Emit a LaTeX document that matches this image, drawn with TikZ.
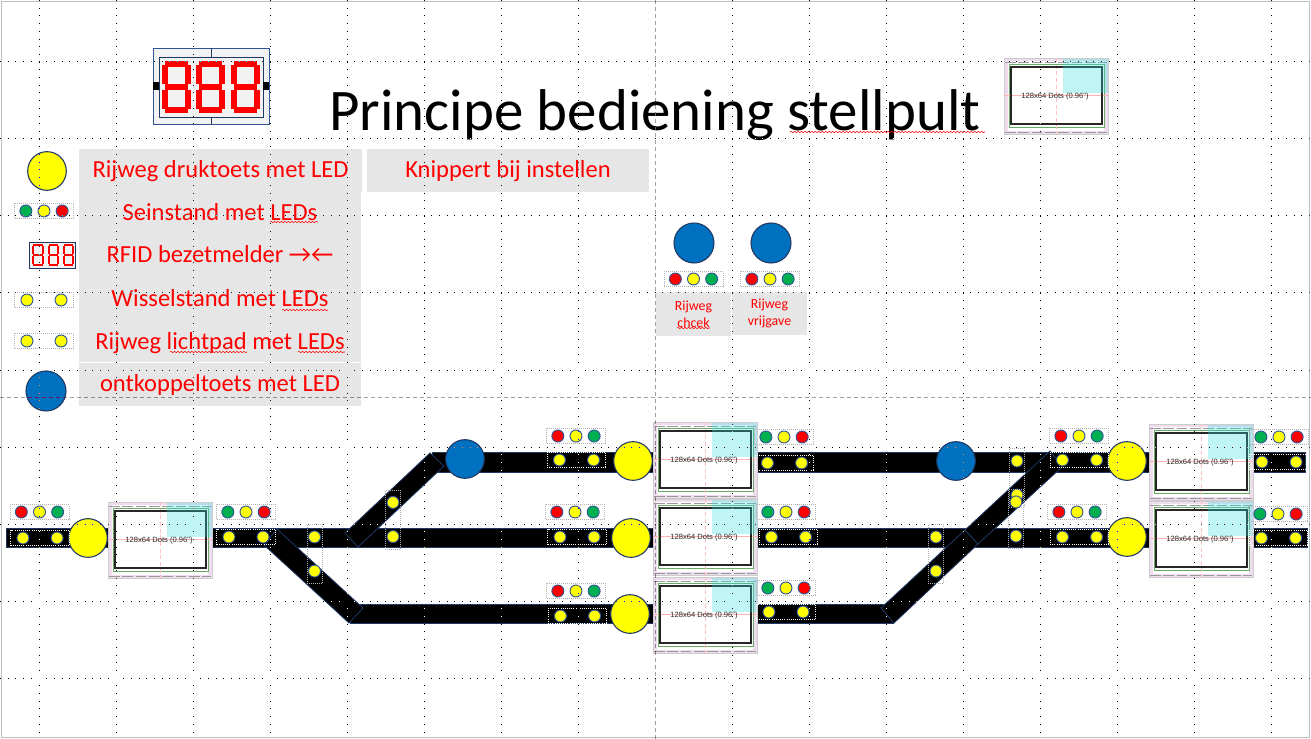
\documentclass[tikz,border=0pt]{standalone}
\usepackage{xcolor}
\usepackage{fontspec}
\usepackage{tikz}
\usetikzlibrary{positioning, decorations.pathmorphing}
\setmainfont{Carlito}
\newfontfamily\oledfont{Liberation Sans}

\definecolor{ledgreen}{HTML}{00B050}
\definecolor{ledyellow}{HTML}{FFFF00}
\definecolor{ledred}{HTML}{FF0000}
\definecolor{ledblue}{HTML}{0070C0}
\definecolor{edgenavy}{HTML}{1F3864}
\definecolor{ledrim}{HTML}{2F5597}
\definecolor{panelgray}{HTML}{E6E6E6}
\definecolor{oledpink}{HTML}{EFDDEF}
\definecolor{oledcyan}{HTML}{30E0E0}

\tikzset{
    trackbar/.style={fill=black,draw=edgenavy,line width=0.6pt},
    led/.style={circle,draw=ledrim,line width=0.7pt,minimum size=9pt,inner sep=0pt},
    ledbox/.style={rectangle,draw=black!30,densely dotted,line width=0.5pt,inner sep=0pt},
    ledboxon/.style={rectangle,draw=white,densely dotted,line width=0.6pt,inner sep=0pt},
    bigkey/.style={circle,draw=edgenavy,line width=0.8pt,minimum size=29pt,inner sep=0pt},
    legendbox/.style={rectangle,fill=panelgray,text=red,minimum width=212pt,minimum height=32pt,inner sep=0pt,
        text height=14pt,text depth=4pt,font=\fontsize{18.4}{22}\selectfont},
    smallbox/.style={rectangle,fill=panelgray,text=red,minimum width=56pt,minimum height=32.5pt,inner sep=0pt,
        align=center,font=\fontsize{10.4}{12.6}\selectfont},
    segline/.style={draw=red},
    griddots/.style={white,line width=0.75pt,dash pattern=on 0.75pt off 5.025pt,blend mode=difference},
    guideline/.style={color=black!63,line width=0.75pt,dash pattern=on 3pt off 2.25pt,blend mode=difference},
    squiggle/.style={red,line width=0.4pt,decorate,decoration={snake,amplitude=0.5pt,segment length=2.6pt}},
    oledpanel/.pic={
        \fill[oledpink] (0,0) rectangle (104,76);
        \fill[white] (4,3) rectangle (100,73);
        \draw[black!40,line width=0.6pt,dash pattern=on 8pt off 2pt] (1,4) -- (103,4);
        \draw[black!40,line width=0.6pt,dash pattern=on 8pt off 2pt] (1,74) -- (103,74);
        \draw[black!20,line width=0.5pt] (0,0) rectangle (104,76);
        \draw[green!45!black!60,line width=0.4pt] (5,6) rectangle (100,69);
        \draw[red!25,line width=0.6pt,densely dashed] (52,0) -- (52,76);
        \draw[red!30,line width=0.5pt] (0,37) -- (104,37);
        \draw[black!85,line width=2.2pt] (7,9) rectangle (98,66);
        \fill[oledcyan,fill opacity=0.3] (59,1) rectangle (104,35);
        \node[inner sep=0pt,text=black!85,font=\oledfont\fontsize{5.7}{7}\selectfont] (-txt) at (51,39) {128x64 Dots (0.96")};
    }
}

% x, y, breedte, hoogte, dikte
\newcommand{\segdigit}[5]{
    \draw[segline,line width={#5*0.75pt}]
        (#1+#5/2,#2+#5/2) -- (#1+#3-#5/2,#2+#5/2)
        (#1+#5/2,#2+#4/2) -- (#1+#3-#5/2,#2+#4/2)
        (#1+#5/2,#2+#4-#5/2) -- (#1+#3-#5/2,#2+#4-#5/2)
        (#1+#5/2,#2+#5/2+1) -- (#1+#5/2,#2+#4/2-#5/2)
        (#1+#3-#5/2,#2+#5/2+1) -- (#1+#3-#5/2,#2+#4/2-#5/2)
        (#1+#5/2,#2+#4/2+#5/2) -- (#1+#5/2,#2+#4-#5/2-1)
        (#1+#3-#5/2,#2+#4/2+#5/2) -- (#1+#3-#5/2,#2+#4-#5/2-1);
}
% naam, positie, drie kleuren
\newcommand{\seinleds}[5]{
    \node[ledbox,minimum width=44pt,minimum height=11.5pt] (#1) at (#2) {};
    \node[led,fill=#4] (#1b) at (#1) {};
    \node[led,fill=#3,left=3.9pt of #1b] (#1a) {};
    \node[led,fill=#5,right=3.9pt of #1b] (#1c) {};
}
% naam, positie, kaderstijl
\newcommand{\wisselleds}[3]{
    \node[#3,minimum width=44pt,minimum height=11.5pt] (#1) at (#2) {};
    \node[led,fill=ledyellow,xshift=-12.8pt] (#1a) at (#1) {};
    \node[led,fill=ledyellow,xshift=12.8pt] (#1b) at (#1) {};
}
\newcommand{\padleds}[2]{
    \node[ledbox,minimum width=11.5pt,minimum height=44pt] (#1) at (#2) {};
    \node[led,fill=ledyellow,yshift=12.8pt] (#1a) at (#1) {};
    \node[led,fill=ledyellow,yshift=-12.8pt] (#1b) at (#1) {};
}

\begin{document}
\begin{tikzpicture}[x=0.75pt,y=-0.75pt]
    \fill[white] (0,0) rectangle (1311,739);
    \useasboundingbox (0,0) rectangle (1311,739);
    \draw[black!25,line width=0.75pt] (1,1) rectangle (1309.5,737);

    % Titel
    \node[inner sep=0pt,anchor=base,font=\fontsize{44.2}{52}\selectfont] (titel) at (655,130) {Principe bediening stellpult};
    \draw[squiggle] (790,132) -- (985,132);

    % 7-segment display
    \node[rectangle,draw=ledrim,fill=black!5,line width=0.7pt,minimum width=87pt,minimum height=57.5pt,inner sep=0pt] (dispgroot) at (211,86.5) {};
    \node[rectangle,draw=edgenavy,line width=0.7pt,minimum width=78pt,minimum height=45.5pt,inner sep=0pt] (dispbinnen) at (211,87.5) {};
    \draw[edgenavy,line width=0.6pt] (dispgroot.north) -- (dispbinnen.north);
    \draw[edgenavy,line width=0.6pt] (dispbinnen.south) -- (dispgroot.south);
    \fill[black] (153,82) rectangle (159,90);
    \fill[black] (263,82) rectangle (269,90);
    \foreach \dx in {162,196,231} {
        \segdigit{\dx}{61}{29}{52}{6}
    }

    % Legenda
    \node[bigkey,fill=ledyellow] (legdruk) at (47,171) {};
    \seinleds{legsein}{44,211}{ledgreen}{ledyellow}{ledred}
    \node[rectangle,draw=edgenavy,fill=black!5,line width=0.8pt,minimum width=34.5pt,minimum height=20pt,inner sep=0pt] (legrfid) at (52.5,255.5) {};
    \foreach \dx in {32,47.5,62.5} {
        \segdigit{\dx}{244}{11.5}{22}{2}
    }
    \wisselleds{legwissel}{44,300}{ledbox}
    \wisselleds{legpad}{44,341}{ledbox}
    \node[bigkey,fill=ledblue,minimum size=30pt] (legont) at (46,391) {};

    \node[legendbox] (txtdruk) at (220.5,170.5) {\raisebox{-0.4pt}{Rijweg druktoets met LED}};
    \node[legendbox] (txtsein) at (220,213.5) {Seinstand met LEDs};
    \node[legendbox] (txtrfid) at (220,256) {\raisebox{0.5pt}{RFID bezetmelder →←}};
    \node[legendbox] (txtwissel) at (220,298.5) {\raisebox{-1.35pt}{Wisselstand met LEDs}};
    \node[legendbox] (txtpad) at (220,341) {\raisebox{-1pt}{Rijweg lichtpad met LEDs}};
    \node[legendbox] (txtont) at (220,384.5) {ontkoppeltoets met LED};
    \node[legendbox] (txtknip) at (508,170.5) {\raisebox{-0.4pt}{Knippert bij instellen}};
    \draw[squiggle] (270,222) -- (318,222);
    \draw[squiggle] (282,310) -- (328,310);
    \draw[squiggle] (170,352) -- (247,352);
    \draw[squiggle] (298,352) -- (345,352);

    % Rijweg check en vrijgave
    \node[bigkey,fill=ledblue,minimum size=30pt] (toetscheck) at (694,243) {};
    \node[bigkey,fill=ledblue,minimum size=30pt] (toetsvrij) at (771,243) {};
    \seinleds{seincheck}{693.5,279}{ledred}{ledyellow}{ledgreen}
    \seinleds{seinvrij}{770,279}{ledred}{ledyellow}{ledgreen}
    \node[smallbox] (txtcheck) at (693.5,314) {Rijweg\\chcek};
    \node[smallbox] (txtvrij) at (769.5,313.5) {Rijweg\\vrijgave};
    \draw[squiggle] (677,328) -- (710,328);

    % Sporen
    \draw[trackbar] (6,528) rectangle (112,547);
    \draw[trackbar] (212,528) rectangle (656,547);
    \draw[trackbar] (757,528) rectangle (1152,547);
    \draw[trackbar] (1252,528) rectangle (1307,547);
    \draw[trackbar] (432,452) rectangle (656,472);
    \draw[trackbar] (757,452) rectangle (1152,472);
    \draw[trackbar] (1252,452) rectangle (1305,472);
    \draw[trackbar] (350,604) rectangle (656,623);
    \draw[trackbar] (757,604) rectangle (893,623);
    \draw[trackbar] (345,533) -- (358,547) -- (444,466) -- (430,453) -- cycle;
    \draw[trackbar] (277,529) -- (264,545) -- (349,623) -- (363,608) -- cycle;
    \draw[trackbar] (881,608) -- (894,623) -- (978,544) -- (965,530) -- cycle;
    \draw[trackbar] (965,530) -- (978,544) -- (1062,467) -- (1050,451) -- cycle;

    % OLED schermen
    \pic (oledtitel) at (1004,58) {oledpanel};
    \pic (oledin) at (108,502) {oledpanel};
    \pic (oledA) at (653,422) {oledpanel};
    \pic (oledB) at (653,499) {oledpanel};
    \pic (oledC) at (653,577) {oledpanel};
    \pic (oledD) at (1149,424) {oledpanel};
    \pic (oledE) at (1149,501) {oledpanel};

    % Druktoetsen en ontkoppeltoetsen
    \node[bigkey,fill=ledyellow] (toetsin) at (88,538) {};
    \node[bigkey,fill=ledyellow] (toetsA) at (633,461) {};
    \node[bigkey,fill=ledyellow] (toetsB) at (631,538) {};
    \node[bigkey,fill=ledyellow] (toetsC) at (630,614) {};
    \node[bigkey,fill=ledyellow] (toetsD) at (1127,461) {};
    \node[bigkey,fill=ledyellow] (toetsE) at (1127,537) {};
    \node[bigkey,fill=ledblue] (ontA) at (465,459) {};
    \node[bigkey,fill=ledblue] (ontB) at (956,461) {};

    % Seinen
    \seinleds{seinin}{39.5,512}{ledred}{ledyellow}{ledgreen}
    \seinleds{seinuit}{246,512}{ledgreen}{ledyellow}{ledred}
    \seinleds{seinA}{576,436}{ledred}{ledyellow}{ledgreen}
    \seinleds{seinB}{575,512}{ledred}{ledyellow}{ledgreen}
    \seinleds{seinC}{576,591}{ledred}{ledyellow}{ledgreen}
    \seinleds{seinF}{784,437}{ledgreen}{ledyellow}{ledred}
    \seinleds{seinG}{786,512}{ledgreen}{ledyellow}{ledred}
    \seinleds{seinH}{786,588}{ledgreen}{ledyellow}{ledred}
    \seinleds{seinD}{1079,436}{ledred}{ledyellow}{ledgreen}
    \seinleds{seinE}{1077,512}{ledred}{ledyellow}{ledgreen}
    \seinleds{seinJ}{1279,437}{ledgreen}{ledyellow}{ledred}
    \seinleds{seinK}{1278,514}{ledgreen}{ledyellow}{ledred}

    % Wisselstand en lichtpad op het spoor
    \wisselleds{wisin}{40,538}{ledboxon}
    \wisselleds{wisuit}{246,537}{ledboxon}
    \wisselleds{wisA}{576.5,460}{ledboxon}
    \wisselleds{wisB}{577,537}{ledboxon}
    \wisselleds{wisC}{577.5,616}{ledboxon}
    \wisselleds{wisF}{784.5,463}{ledboxon}
    \wisselleds{wisG}{788.5,537}{ledboxon}
    \wisselleds{wisH}{786,612}{ledboxon}
    \wisselleds{wisD}{1079.5,460}{ledboxon}
    \wisselleds{wisE}{1079.5,537}{ledboxon}
    \wisselleds{wisJ}{1279,462}{ledboxon}
    \wisselleds{wisK}{1278.5,538}{ledboxon}
    \padleds{padA}{314.5,554}
    \padleds{padB}{393,519.5}
    \padleds{padC}{936,554}
    \padleds{padD}{1017,478}
    \padleds{padE}{1016,519}

    % Raster en hulplijnen
    \foreach \gx in {39,116,193,270,347,424,501,578,732,809,886,963,1040,1117,1194,1271} {
        \draw[griddots] (\gx,0) -- (\gx,739);
    }
    \foreach \gy in {61,138,215,292,370,447,524,601,678} {
        \draw[griddots] (0,\gy) -- (1311,\gy);
    }
    \draw[guideline] (655,0) -- (655,739);
    \draw[guideline] (0,397) -- (1311,397);
\end{tikzpicture}
\end{document}
